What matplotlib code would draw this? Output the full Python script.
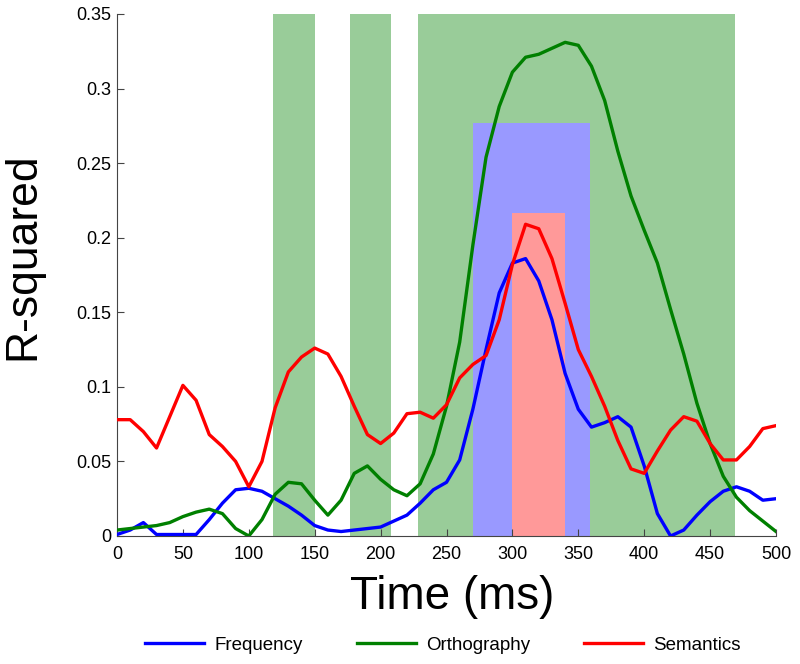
import matplotlib.pyplot as plt
from matplotlib.patches import Rectangle

plt.rcParams['font.family'] = ['Liberation Sans', 'DejaVu Sans']

# tempo (ms), amostras a cada 10 ms
time_ms = list(range(0, 510, 10))

frequency = [0.001, 0.004, 0.009, 0.001, 0.001, 0.001, 0.001, 0.011, 0.022, 0.031,
             0.032, 0.030, 0.025, 0.020, 0.014, 0.007, 0.004, 0.003, 0.004, 0.005,
             0.006, 0.010, 0.014, 0.022, 0.031, 0.036, 0.051, 0.085, 0.125, 0.163,
             0.183, 0.186, 0.171, 0.145, 0.109, 0.085, 0.073, 0.076, 0.080, 0.073,
             0.047, 0.015, 0.000, 0.004, 0.014, 0.023, 0.030, 0.033, 0.030, 0.024,
             0.025]

orthography = [0.004, 0.005, 0.006, 0.007, 0.009, 0.013, 0.016, 0.018, 0.015, 0.005,
               0.000, 0.011, 0.028, 0.036, 0.035, 0.024, 0.014, 0.024, 0.042, 0.047,
               0.038, 0.031, 0.027, 0.035, 0.055, 0.087, 0.130, 0.195, 0.254, 0.288,
               0.311, 0.321, 0.323, 0.327, 0.331, 0.329, 0.315, 0.292, 0.258, 0.228,
               0.205, 0.183, 0.152, 0.122, 0.089, 0.062, 0.040, 0.026, 0.017, 0.010,
               0.003]

semantics = [0.078, 0.078, 0.070, 0.059, 0.080, 0.101, 0.091, 0.068, 0.060, 0.050,
             0.033, 0.050, 0.086, 0.110, 0.120, 0.126, 0.122, 0.107, 0.087, 0.068,
             0.062, 0.069, 0.082, 0.083, 0.079, 0.088, 0.106, 0.115, 0.121, 0.145,
             0.182, 0.209, 0.206, 0.186, 0.156, 0.125, 0.107, 0.087, 0.064, 0.045,
             0.042, 0.057, 0.071, 0.080, 0.077, 0.062, 0.051, 0.051, 0.060, 0.072,
             0.074]

# janelas significativas: (inicio, fim, altura)
green_windows = [(118, 150, 0.35), (177, 208, 0.35), (228, 469, 0.35)]
blue_windows = [(270, 359, 0.277)]
red_windows = [(300, 340, 0.2165)]

fig = plt.figure(figsize=(8, 6.64), dpi=100)
ax = fig.add_axes([117 / 800, 128 / 664, 659 / 800, 522 / 664])

for windows, color in [(green_windows, '#99CC99'), (blue_windows, '#9999FF'),
                       (red_windows, '#FF9999')]:
    for start, end, top in windows:
        ax.add_patch(Rectangle((start, 0), end - start, top, facecolor=color,
                               edgecolor='none', zorder=1))

ax.plot(time_ms, frequency, color='#0000FF', lw=2.4, label='Frequency', zorder=3)
ax.plot(time_ms, orthography, color='#008000', lw=2.4, label='Orthography', zorder=3)
ax.plot(time_ms, semantics, color='#FF0000', lw=2.4, label='Semantics', zorder=3)

ax.set_xlim(0, 500)
ax.set_ylim(0, 0.35)
ax.set_xticks(range(0, 550, 50))
ax.set_yticks([0, 0.05, 0.1, 0.15, 0.2, 0.25, 0.3, 0.35])
ax.set_yticklabels(['0', '0.05', '0.1', '0.15', '0.2', '0.25', '0.3', '0.35'])
ax.tick_params(direction='in', labelsize=13, length=5, color='#444444')
ax.tick_params(axis='x', pad=7)
ax.tick_params(axis='y', pad=4)
ax.spines['top'].set_visible(False)
ax.spines['right'].set_visible(False)
for s in ['left', 'bottom']:
    ax.spines[s].set_color('#444444')

ax.set_xlabel('Time (ms)', fontsize=33)
ax.xaxis.set_label_coords(0.508, -0.074)
ax.set_ylabel('R-squared', fontsize=32)
ax.yaxis.set_label_coords(-0.112, 0.536)

fig.legend(loc='center', ncol=3, frameon=False, fontsize=13.5,
           bbox_to_anchor=(443 / 800, 1 - 645 / 664), columnspacing=2.9,
           handlelength=3.15, handletextpad=0.53)

fig.savefig('out.png', dpi=100)
